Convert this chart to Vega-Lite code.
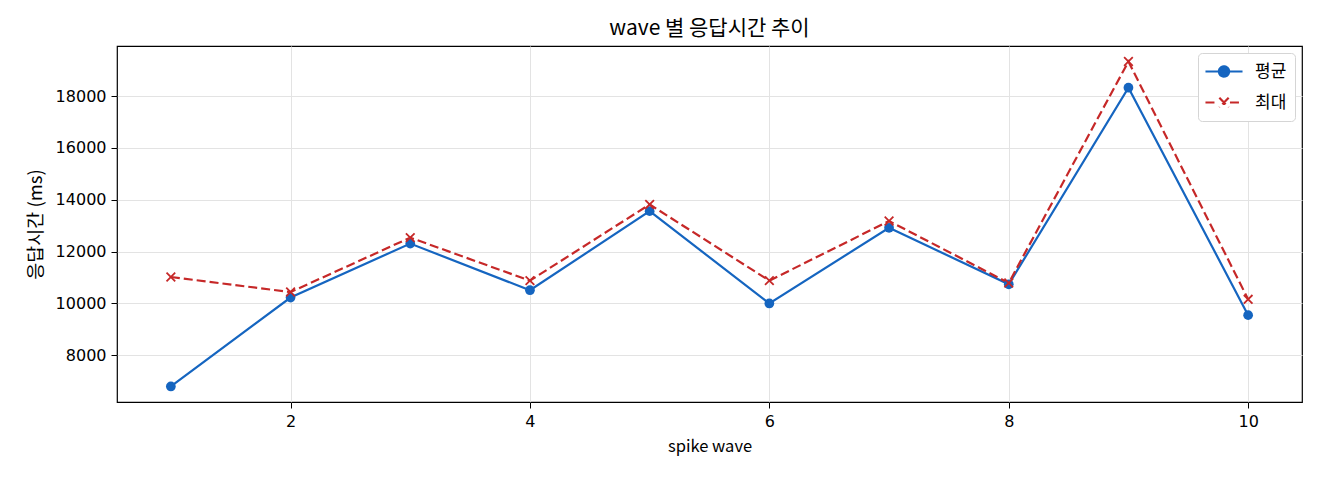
{
  "$schema": "https://vega.github.io/schema/vega-lite/v6.json",
  "width": 1185,
  "height": 356,
  "autosize": {"type": "none"},
  "padding": {"left": 117, "top": 46, "right": 18, "bottom": 78},
  "background": "white",
  "title": {
    "text": "wave 별 응답시간 추이",
    "fontSize": 21,
    "font": "Noto Sans CJK KR",
    "fontWeight": "normal",
    "color": "#000000",
    "anchor": "middle",
    "offset": 7
  },
  "config": {
    "font": "Noto Sans CJK KR",
    "view": {"stroke": "#000000", "strokeWidth": 1.2},
    "axis": {
      "domain": false,
      "grid": true,
      "gridColor": "#e3e3e3",
      "gridWidth": 1,
      "tickColor": "#000000",
      "tickSize": 6,
      "tickWidth": 1,
      "labelFontSize": 16,
      "labelColor": "#000000",
      "labelFont": "DejaVu Sans",
      "titleFontSize": 17,
      "titleFont": "Noto Sans CJK KR",
      "titleFontWeight": "normal",
      "titleColor": "#000000",
      "labelPadding": 5
    }
  },
  "data": {
    "values": [
      {"wave": 1, "series": "평균", "value": 6800},
      {"wave": 2, "series": "평균", "value": 10230},
      {"wave": 3, "series": "평균", "value": 12310},
      {"wave": 4, "series": "평균", "value": 10510},
      {"wave": 5, "series": "평균", "value": 13560},
      {"wave": 6, "series": "평균", "value": 10000},
      {"wave": 7, "series": "평균", "value": 12920},
      {"wave": 8, "series": "평균", "value": 10740},
      {"wave": 9, "series": "평균", "value": 18320},
      {"wave": 10, "series": "평균", "value": 9550},
      {"wave": 1, "series": "최대", "value": 11020},
      {"wave": 2, "series": "최대", "value": 10440},
      {"wave": 3, "series": "최대", "value": 12540},
      {"wave": 4, "series": "최대", "value": 10880},
      {"wave": 5, "series": "최대", "value": 13820},
      {"wave": 6, "series": "최대", "value": 10880},
      {"wave": 7, "series": "최대", "value": 13180},
      {"wave": 8, "series": "최대", "value": 10790},
      {"wave": 9, "series": "최대", "value": 19330},
      {"wave": 10, "series": "최대", "value": 10160}
    ]
  },
  "encoding": {
    "x": {
      "field": "wave",
      "type": "quantitative",
      "scale": {"domain": [0.55, 10.45], "nice": false, "zero": false},
      "axis": {"values": [2, 4, 6, 8, 10], "title": "spike wave", "titlePadding": 9, "titleFontSize": 16.5}
    },
    "y": {
      "field": "value",
      "type": "quantitative",
      "scale": {"domain": [6200, 19930], "nice": false, "zero": false},
      "axis": {
        "values": [8000, 10000, 12000, 14000, 16000, 18000],
        "format": "d",
        "title": "응답시간 (ms)",
        "titlePadding": 10,
        "titleFontSize": 18.5
      }
    },
    "color": {
      "field": "series",
      "type": "nominal",
      "scale": {"domain": ["평균", "최대"], "range": ["#1565c0", "#c62828"]},
      "legend": {
        "title": null,
        "orient": "top-right",
        "offset": 7,
        "padding": 8.5,
        "symbolSize": 289,
        "symbolOffset": 7.5,
        "labelOffset": 21,
        "rowPadding": 11,
        "labelFontSize": 17,
        "labelColor": "#000000",
        "labelFont": "Noto Sans CJK KR",
        "strokeColor": "#d5d5d5",
        "fillColor": "#ffffff",
        "cornerRadius": 4,
        "encode": {
          "symbols": {
            "update": {
              "shape": {"signal": "datum.value === '평균' ? 'M-2.18,0H2.18M0.6,0A0.6,0.6 0 1 1 -0.6,0A0.6,0.6 0 1 1 0.6,0Z' : 'M-2.18,0H-0.7M0.7,0H2.18M-0.55,-0.55L0.55,0.55M0.55,-0.55L-0.55,0.55'"},
              "fill": {"signal": "datum.value === '평균' ? '#1565c0' : 'transparent'"},
              "stroke": {"signal": "datum.value === '평균' ? '#1565c0' : '#c62828'"},
              "strokeDash": {"signal": "datum.value === '평균' ? [1, 0] : [9, 4]"},
              "strokeWidth": {"value": 2.2},
              "opacity": {"value": 1}
            }
          }
        }
      }
    }
  },
  "layer": [
    {
      "transform": [{"filter": "datum.series === '평균'"}],
      "mark": {"type": "line", "strokeWidth": 2.2}
    },
    {
      "transform": [{"filter": "datum.series === '최대'"}],
      "mark": {"type": "line", "strokeWidth": 2.2, "strokeDash": [9, 4]}
    },
    {
      "transform": [{"filter": "datum.series === '평균'"}],
      "mark": {"type": "point", "shape": "circle", "filled": true, "opacity": 1, "size": 95}
    },
    {
      "transform": [{"filter": "datum.series === '최대'"}],
      "mark": {"type": "point", "shape": "M-1,-1L1,1M1,-1L-1,1", "filled": true, "opacity": 1, "size": 75, "stroke": "#c62828", "strokeWidth": 1.8}
    }
  ]
}
